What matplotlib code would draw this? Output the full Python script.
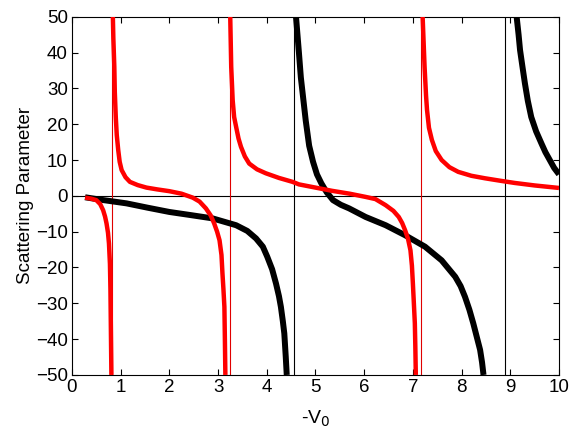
import numpy as np
import matplotlib.pyplot as plt

plt.rcParams['font.family'] = ['Liberation Sans', 'DejaVu Sans']

# red branches (x, y)
red1_x = [0.27, 0.40, 0.50, 0.58, 0.64, 0.68, 0.71, 0.74, 0.76, 0.78, 0.79, 0.80, 0.81]
red1_y = [-0.5, -0.8, -1.2, -2.3, -4.0, -5.8, -7.7, -10.3, -13.3, -19.0, -26.0, -38.0, -50.0]

red2_x = [0.84, 0.85, 0.87, 0.88, 0.90, 0.92, 0.95, 0.98, 1.02, 1.10, 1.19, 1.35, 1.53, 1.75,
          2.00, 2.25, 2.48, 2.62, 2.75, 2.85, 2.92, 2.98, 3.03, 3.07, 3.09, 3.11, 3.13, 3.14, 3.15]
red2_y = [50.0, 44.0, 36.0, 29.0, 22.0, 17.0, 12.8, 9.5, 7.2, 5.2, 3.9, 3.0, 2.3, 1.8,
          1.3, 0.6, -0.5, -1.6, -3.5, -5.5, -7.7, -10.0, -12.4, -16.5, -21.6, -26.0, -31.0, -40.0, -50.0]

red3_x = [3.25, 3.26, 3.27, 3.30, 3.33, 3.37, 3.42, 3.47, 3.55, 3.64, 3.80, 3.98, 4.25, 4.53,
          4.66, 5.00, 5.34, 5.70, 6.03, 6.23, 6.44, 6.60, 6.71, 6.78, 6.84, 6.90, 6.95, 6.98,
          7.00, 7.02, 7.04, 7.05, 7.06]
red3_y = [50.0, 43.0, 36.0, 26.7, 22.0, 19.3, 16.0, 13.7, 11.0, 9.0, 7.4, 6.3, 5.0, 3.9,
          3.2, 2.3, 1.4, 0.6, -0.3, -0.9, -2.6, -4.2, -5.9, -7.6, -9.6, -12.0, -15.2, -19.5,
          -24.5, -30.0, -35.6, -42.0, -50.0]

red4_x = [7.20, 7.22, 7.24, 7.27, 7.29, 7.33, 7.39, 7.47, 7.59, 7.75, 7.93, 8.20, 8.48, 8.80,
          9.09, 9.50, 10.0]
red4_y = [50.0, 43.0, 36.0, 28.0, 24.0, 19.0, 15.6, 12.5, 10.0, 8.0, 6.7, 5.6, 4.9, 4.2,
          3.6, 2.9, 2.2]

# black branches
blk1_x = [0.27, 0.60, 1.12, 1.55, 2.00, 2.45, 2.89, 3.37, 3.60, 3.78, 3.92, 4.01, 4.11, 4.19,
          4.25, 4.29, 4.33, 4.36, 4.39, 4.41]
blk1_y = [-0.4, -1.1, -2.1, -3.3, -4.5, -5.4, -6.3, -8.2, -9.8, -11.9, -14.2, -17.0, -20.5, -24.5,
          -28.0, -31.0, -35.0, -38.4, -45.0, -50.0]

blk2_x = [4.60, 4.63, 4.66, 4.70, 4.75, 4.80, 4.87, 4.95, 5.03, 5.12, 5.23, 5.36, 5.52, 5.69,
          6.03, 6.44, 6.84, 7.25, 7.59, 7.87, 7.98, 8.07, 8.16, 8.24, 8.31, 8.38, 8.42, 8.45]
blk2_y = [50.0, 45.0, 40.0, 33.0, 27.0, 21.0, 14.0, 9.5, 6.0, 3.5, 1.0, -1.2, -2.5, -3.5,
          -5.9, -8.2, -11.0, -14.2, -18.0, -22.6, -25.2, -28.2, -31.8, -35.6, -39.3, -43.0, -46.5, -50.0]

blk3_x = [9.13, 9.17, 9.20, 9.25, 9.30, 9.36, 9.43, 9.53, 9.64, 9.72, 9.81, 9.90, 10.0]
blk3_y = [50.0, 45.0, 40.7, 36.0, 31.4, 26.5, 22.0, 18.0, 14.6, 12.2, 10.0, 7.8, 6.0]

red_vlines = [0.82, 3.25, 7.16]
blk_vlines = [4.55, 8.89]

fig = plt.figure(figsize=(5.71, 4.29), dpi=100)
ax = fig.add_axes([0.126, 0.126, 0.853, 0.835])

ax.axhline(0, color='black', lw=0.8, zorder=1)
for v in red_vlines:
    ax.axvline(v, color='#e00000', lw=0.8, zorder=1)
for v in blk_vlines:
    ax.axvline(v, color='black', lw=0.8, zorder=1)

for xs, ys in [(red1_x, red1_y), (red2_x, red2_y), (red3_x, red3_y), (red4_x, red4_y)]:
    ax.plot(xs, ys, color='#ff0000', lw=3.2, solid_capstyle='butt', solid_joinstyle='round', zorder=3)
for xs, ys in [(blk1_x, blk1_y), (blk2_x, blk2_y), (blk3_x, blk3_y)]:
    ax.plot(xs, ys, color='black', lw=4.3, solid_capstyle='butt', solid_joinstyle='round', zorder=2)

ax.set_xlim(0, 10)
ax.set_ylim(-50, 50)
ax.set_xticks(np.arange(0, 11, 1))
ax.set_yticks(np.arange(-50, 51, 10))
ax.tick_params(direction='in', top=True, right=True, length=4, labelsize=13.5, pad=3)
for s in ax.spines.values():
    s.set_linewidth(0.8)

ax.set_xlabel('-V$_0$', fontsize=14, labelpad=9)
ax.set_ylabel('Scattering Parameter', fontsize=13.5, labelpad=1)

fig.savefig('out.png', dpi=100)
